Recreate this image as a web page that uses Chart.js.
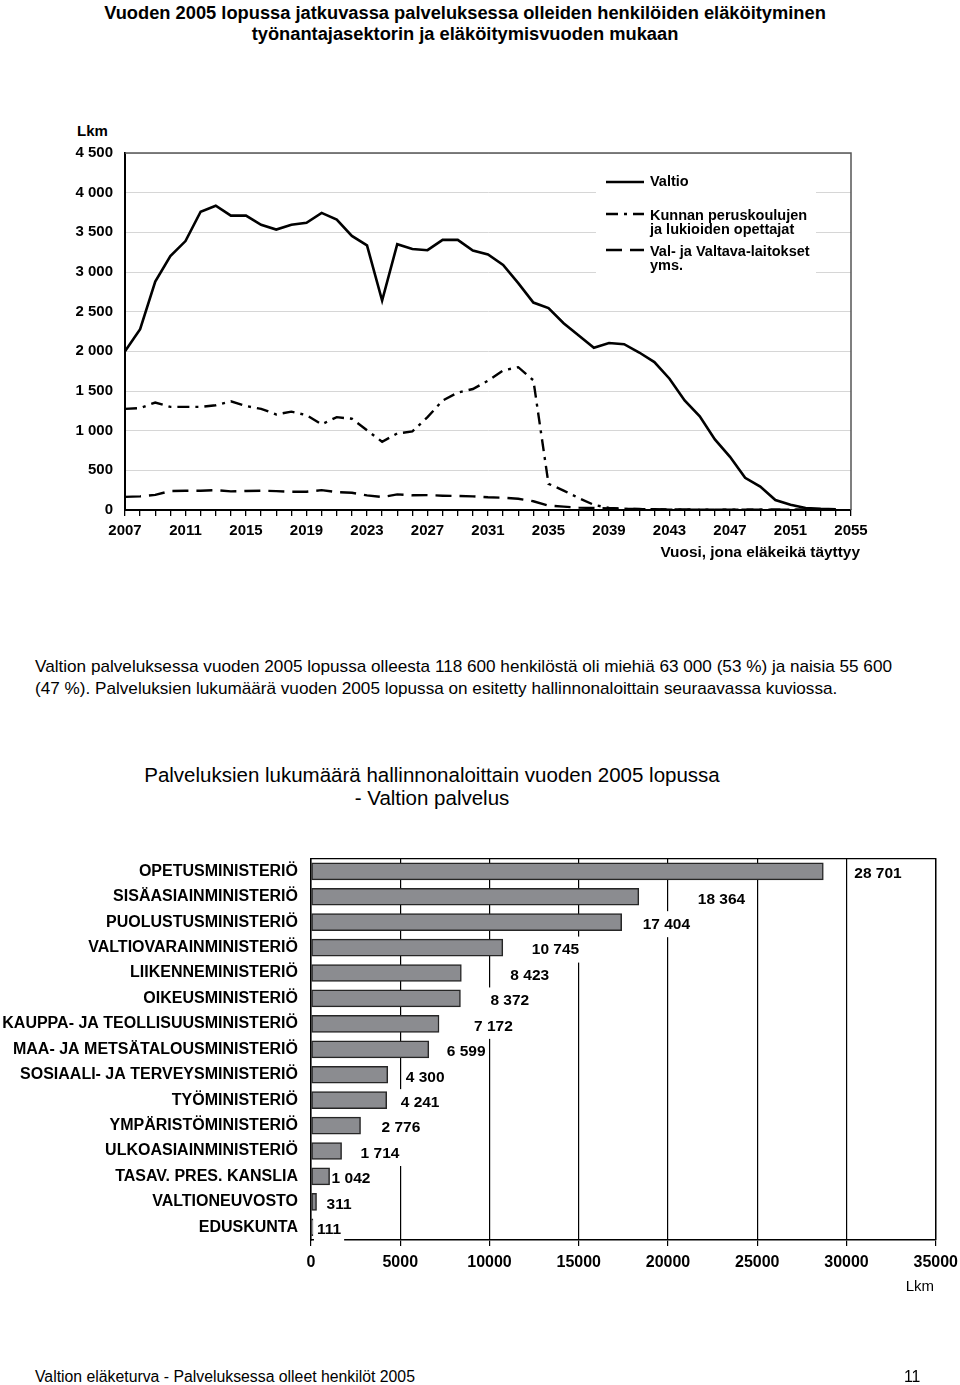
<!DOCTYPE html>
<html><head><meta charset="utf-8">
<script src="https://cdn.jsdelivr.net/npm/chart.js@4.4.1/dist/chart.umd.min.js"></script>
<style>
html,body{margin:0;padding:0;background:#fff;}
body{width:960px;height:1385px;position:relative;overflow:hidden;font-family:"Liberation Sans",Arial,Helvetica,sans-serif;color:#000;}
.abs{position:absolute;white-space:nowrap;}
canvas{position:absolute;left:0;top:0;}
</style></head><body>

<div class="abs" style="left:0;width:930px;top:2px;text-align:center;font-weight:bold;font-size:18.3px;line-height:21px;">Vuoden 2005 lopussa jatkuvassa palveluksessa olleiden henkilöiden eläköityminen<br>työnantajasektorin ja eläköitymisvuoden mukaan</div>

<div class="abs" style="left:77px;top:122px;font-weight:bold;font-size:15px;line-height:18px;">Lkm</div>
<div class="abs" style="left:0;top:132px;width:960px;height:413px;"><canvas id="c1" width="960" height="413"></canvas></div>
<div class="abs" style="right:100px;top:543px;font-weight:bold;font-size:15.4px;line-height:18px;">Vuosi, jona eläkeikä täyttyy</div>

<div class="abs" style="left:35px;top:656px;font-size:17.15px;line-height:21.5px;">Valtion palveluksessa vuoden 2005 lopussa olleesta 118 600 henkilöstä oli miehiä 63 000 (53 %) ja naisia 55 600<br>(47 %). Palveluksien lukumäärä vuoden 2005 lopussa on esitetty hallinnonaloittain seuraavassa kuviossa.</div>

<div class="abs" style="left:0;width:864px;top:763px;text-align:center;font-size:20.5px;line-height:23px;">Palveluksien lukumäärä hallinnonaloittain vuoden 2005 lopussa<br>- Valtion palvelus</div>

<div class="abs" style="left:0;top:836px;width:965px;height:464px;"><canvas id="c2" width="965" height="464"></canvas></div>
<div class="abs" style="right:26px;top:1277px;font-size:15px;line-height:18px;">Lkm</div>

<div class="abs" style="left:35px;top:1368px;font-size:15.8px;line-height:18px;">Valtion eläketurva - Palveluksessa olleet henkilöt 2005</div>
<div class="abs" style="left:904px;top:1368px;font-size:15.8px;line-height:18px;">11</div>

<script>
// ---------- Data: line chart ----------
const years = ["2007","2008","2009","2010","2011","2012","2013","2014","2015","2016","2017","2018","2019","2020","2021","2022","2023","2024","2025","2026","2027","2028","2029","2030","2031","2032","2033","2034","2035","2036","2037","2038","2039","2040","2041","2042","2043","2044","2045","2046","2047","2048","2049","2050","2051","2052","2053","2054","2055"];
const valtio = [2000,2280,2880,3200,3390,3760,3835,3710,3710,3595,3535,3595,3620,3745,3660,3455,3335,2640,3350,3290,3275,3405,3405,3270,3220,3090,2860,2615,2545,2355,2200,2045,2105,2090,1985,1865,1655,1380,1180,890,670,405,295,125,65,25,15,10,null];
const kunnan = [1275,1285,1355,1300,1300,1300,1320,1370,1310,1275,1205,1240,1195,1080,1170,1150,1005,860,965,990,1170,1380,1480,1525,1630,1760,1800,1635,330,245,150,65,25,15,10,8,5,5,5,5,5,5,5,5,5,5,5,5,null];
const valLaitokset = [165,172,190,240,243,243,250,235,240,243,238,230,230,250,226,218,184,163,197,185,188,180,176,172,160,155,142,110,55,42,30,25,20,15,12,10,8,6,5,5,5,5,5,5,5,5,5,5,null];
const seriesNames = [["Valtio"],["Kunnan peruskoulujen","ja lukioiden opettajat"],["Val- ja Valtava-laitokset","yms."]];
const yTicksMax = 4500, yStep = 500;

// ---------- Data: bar chart ----------
const ministries = ["OPETUSMINISTERIÖ","SISÄASIAINMINISTERIÖ","PUOLUSTUSMINISTERIÖ","VALTIOVARAINMINISTERIÖ","LIIKENNEMINISTERIÖ","OIKEUSMINISTERIÖ","KAUPPA- JA TEOLLISUUSMINISTERIÖ","MAA- JA METSÄTALOUSMINISTERIÖ","SOSIAALI- JA TERVEYSMINISTERIÖ","TYÖMINISTERIÖ","YMPÄRISTÖMINISTERIÖ","ULKOASIAINMINISTERIÖ","TASAV. PRES. KANSLIA","VALTIONEUVOSTO","EDUSKUNTA"];
const counts = [28701,18364,17404,10745,8423,8372,7172,6599,4300,4241,2776,1714,1042,311,111];
const xTicksMax = 35000, xStep = 5000;

// ---------- Styling ----------
const FONT = "'Liberation Sans', Arial, Helvetica, sans-serif";
const spaced = n => String(n).replace(/\B(?=(\d{3})+(?!\d))/g, ' ');
const lineStyles = [
  {dash: [], width: 2.6},
  {dash: [12, 6, 3, 6], width: 2.4},
  {dash: [16, 8], width: 2.4}
];
// manual label nudges (px gap from bar end), like the hand-placed labels of the original
const labelGap = [31, 59, 21, 29, 49, 30, 35, 18, 18, 14, 21, 19, 2, 10, 4];

const frameLine = {
  id: 'frameLine',
  afterDatasetsDraw(chart, args, opts) {
    const {ctx, chartArea: a} = chart;
    ctx.save();
    ctx.strokeStyle = opts.color; ctx.lineWidth = opts.width;
    ctx.beginPath();
    ctx.moveTo(a.left, a.top); ctx.lineTo(a.right, a.top); ctx.lineTo(a.right, a.bottom);
    ctx.stroke();
    ctx.restore();
  }
};

const lineLegend = {
  id: 'lineLegend',
  beforeDatasetsDraw(chart) {
    const {ctx} = chart;
    const top = chart.chartArea.top; // legend laid out relative to plot top
    ctx.save();
    ctx.fillStyle = '#fff';
    ctx.fillRect(596, top + 13, 220, 117);
    const rows = [{line: 29, text: [29]}, {line: 61, text: [63, 77]}, {line: 97, text: [99, 113]}];
    ctx.font = "bold 14.5px " + FONT;
    ctx.textBaseline = 'middle';
    ctx.fillStyle = '#000';
    rows.forEach((r, i) => {
      const st = lineStyles[i];
      ctx.strokeStyle = '#000';
      ctx.lineWidth = st.width;
      ctx.setLineDash(st.dash);
      ctx.beginPath(); ctx.moveTo(606, top + r.line); ctx.lineTo(644, top + r.line); ctx.stroke();
      ctx.setLineDash([]);
      seriesNames[i].forEach((t, j) => ctx.fillText(t, 650, top + r.text[j]));
    });
    ctx.restore();
  }
};

new Chart(document.getElementById('c1'), {
  type: 'line',
  data: {
    labels: years,
    datasets: [valtio, kunnan, valLaitokset].map((d, i) => ({
      label: seriesNames[i].join(' '),
      data: d,
      borderColor: '#000',
      borderWidth: lineStyles[i].width,
      borderDash: lineStyles[i].dash,
      pointRadius: 0,
      tension: 0,
      fill: false,
      spanGaps: false
    }))
  },
  options: {
    responsive: false,
    animation: false,
    layout: {padding: {left: 0, right: 109, top: 4, bottom: 5}},
    plugins: {legend: {display: false}, tooltip: {enabled: false}, frameLine: {color: '#555', width: 1.5}},
    scales: {
      x: {
        ticks: {
          autoSkip: false, maxRotation: 0, padding: 6,
          color: '#000', font: {family: FONT, size: 15, weight: 'bold'},
          callback: function(v, i) { return i % 4 === 0 ? this.getLabelForValue(v) : ''; }
        },
        grid: {drawOnChartArea: false, drawTicks: true, tickLength: 6, color: '#000', lineWidth: 1.3},
        border: {display: true, color: '#000', width: 2},
        afterFit: s => { s.height = 30; }
      },
      y: {
        min: 0, max: yTicksMax,
        ticks: {stepSize: yStep, padding: 12, color: '#000', font: {family: FONT, size: 15, weight: 'bold'},
          callback: v => spaced(v)},
        grid: {color: '#d6d6d6', lineWidth: 1, drawTicks: false},
        border: {display: true, color: '#000', width: 2},
        afterFit: s => { s.width = 125; }
      }
    }
  },
  plugins: [lineLegend, frameLine]
});

const barLabels = {
  id: 'barLabels',
  beforeDatasetsDraw(chart) {
    const {ctx} = chart;
    const meta = chart.getDatasetMeta(0);
    ctx.save();
    ctx.font = "bold 15.5px " + FONT;
    ctx.fillStyle = '#fff';
    meta.data.forEach((bar, i) => {
      const t = spaced(counts[i]);
      const w = ctx.measureText(t).width;
      const x = bar.x + labelGap[i];
      ctx.fillRect(x - 3, bar.y + 2 - 13, w + 6, 26);
    });
    ctx.restore();
  },
  afterDatasetsDraw(chart) {
    const {ctx} = chart;
    const meta = chart.getDatasetMeta(0);
    ctx.save();
    ctx.font = "bold 15.5px " + FONT;
    ctx.fillStyle = '#000';
    ctx.textBaseline = 'middle';
    meta.data.forEach((bar, i) => {
      ctx.fillText(spaced(counts[i]), bar.x + labelGap[i], bar.y + 2.5);
    });
    ctx.restore();
  }
};

new Chart(document.getElementById('c2'), {
  type: 'bar',
  data: {
    labels: ministries,
    datasets: [{
      data: counts,
      backgroundColor: '#8b8c90',
      borderColor: '#262626',
      borderWidth: 1.5,
      borderSkipped: false,
      barThickness: 17
    }]
  },
  options: {
    indexAxis: 'y',
    responsive: false,
    animation: false,
    layout: {padding: {left: 0, right: 26, top: 14, bottom: 5}},
    plugins: {legend: {display: false}, tooltip: {enabled: false}, frameLine: {color: '#000', width: 1.3}},
    scales: {
      x: {
        min: 0, max: xTicksMax,
        ticks: {stepSize: xStep, padding: 7, maxRotation: 0, color: '#000', font: {family: FONT, size: 16, weight: 'bold'},
          callback: v => String(v)},
        grid: {color: '#000', lineWidth: 1.2, drawTicks: true, tickLength: 6},
        border: {display: true, color: '#000', width: 1.5},
        afterFit: s => { s.height = 55; }
      },
      y: {
        ticks: {padding: 13, color: '#000', autoSkip: false, font: {family: FONT, size: 16, weight: 'bold'}},
        grid: {display: false, drawTicks: false},
        border: {display: true, color: '#000', width: 1.5},
        afterFit: s => { s.width = 311; }
      }
    }
  },
  plugins: [barLabels, frameLine]
});
</script>
</body></html>
